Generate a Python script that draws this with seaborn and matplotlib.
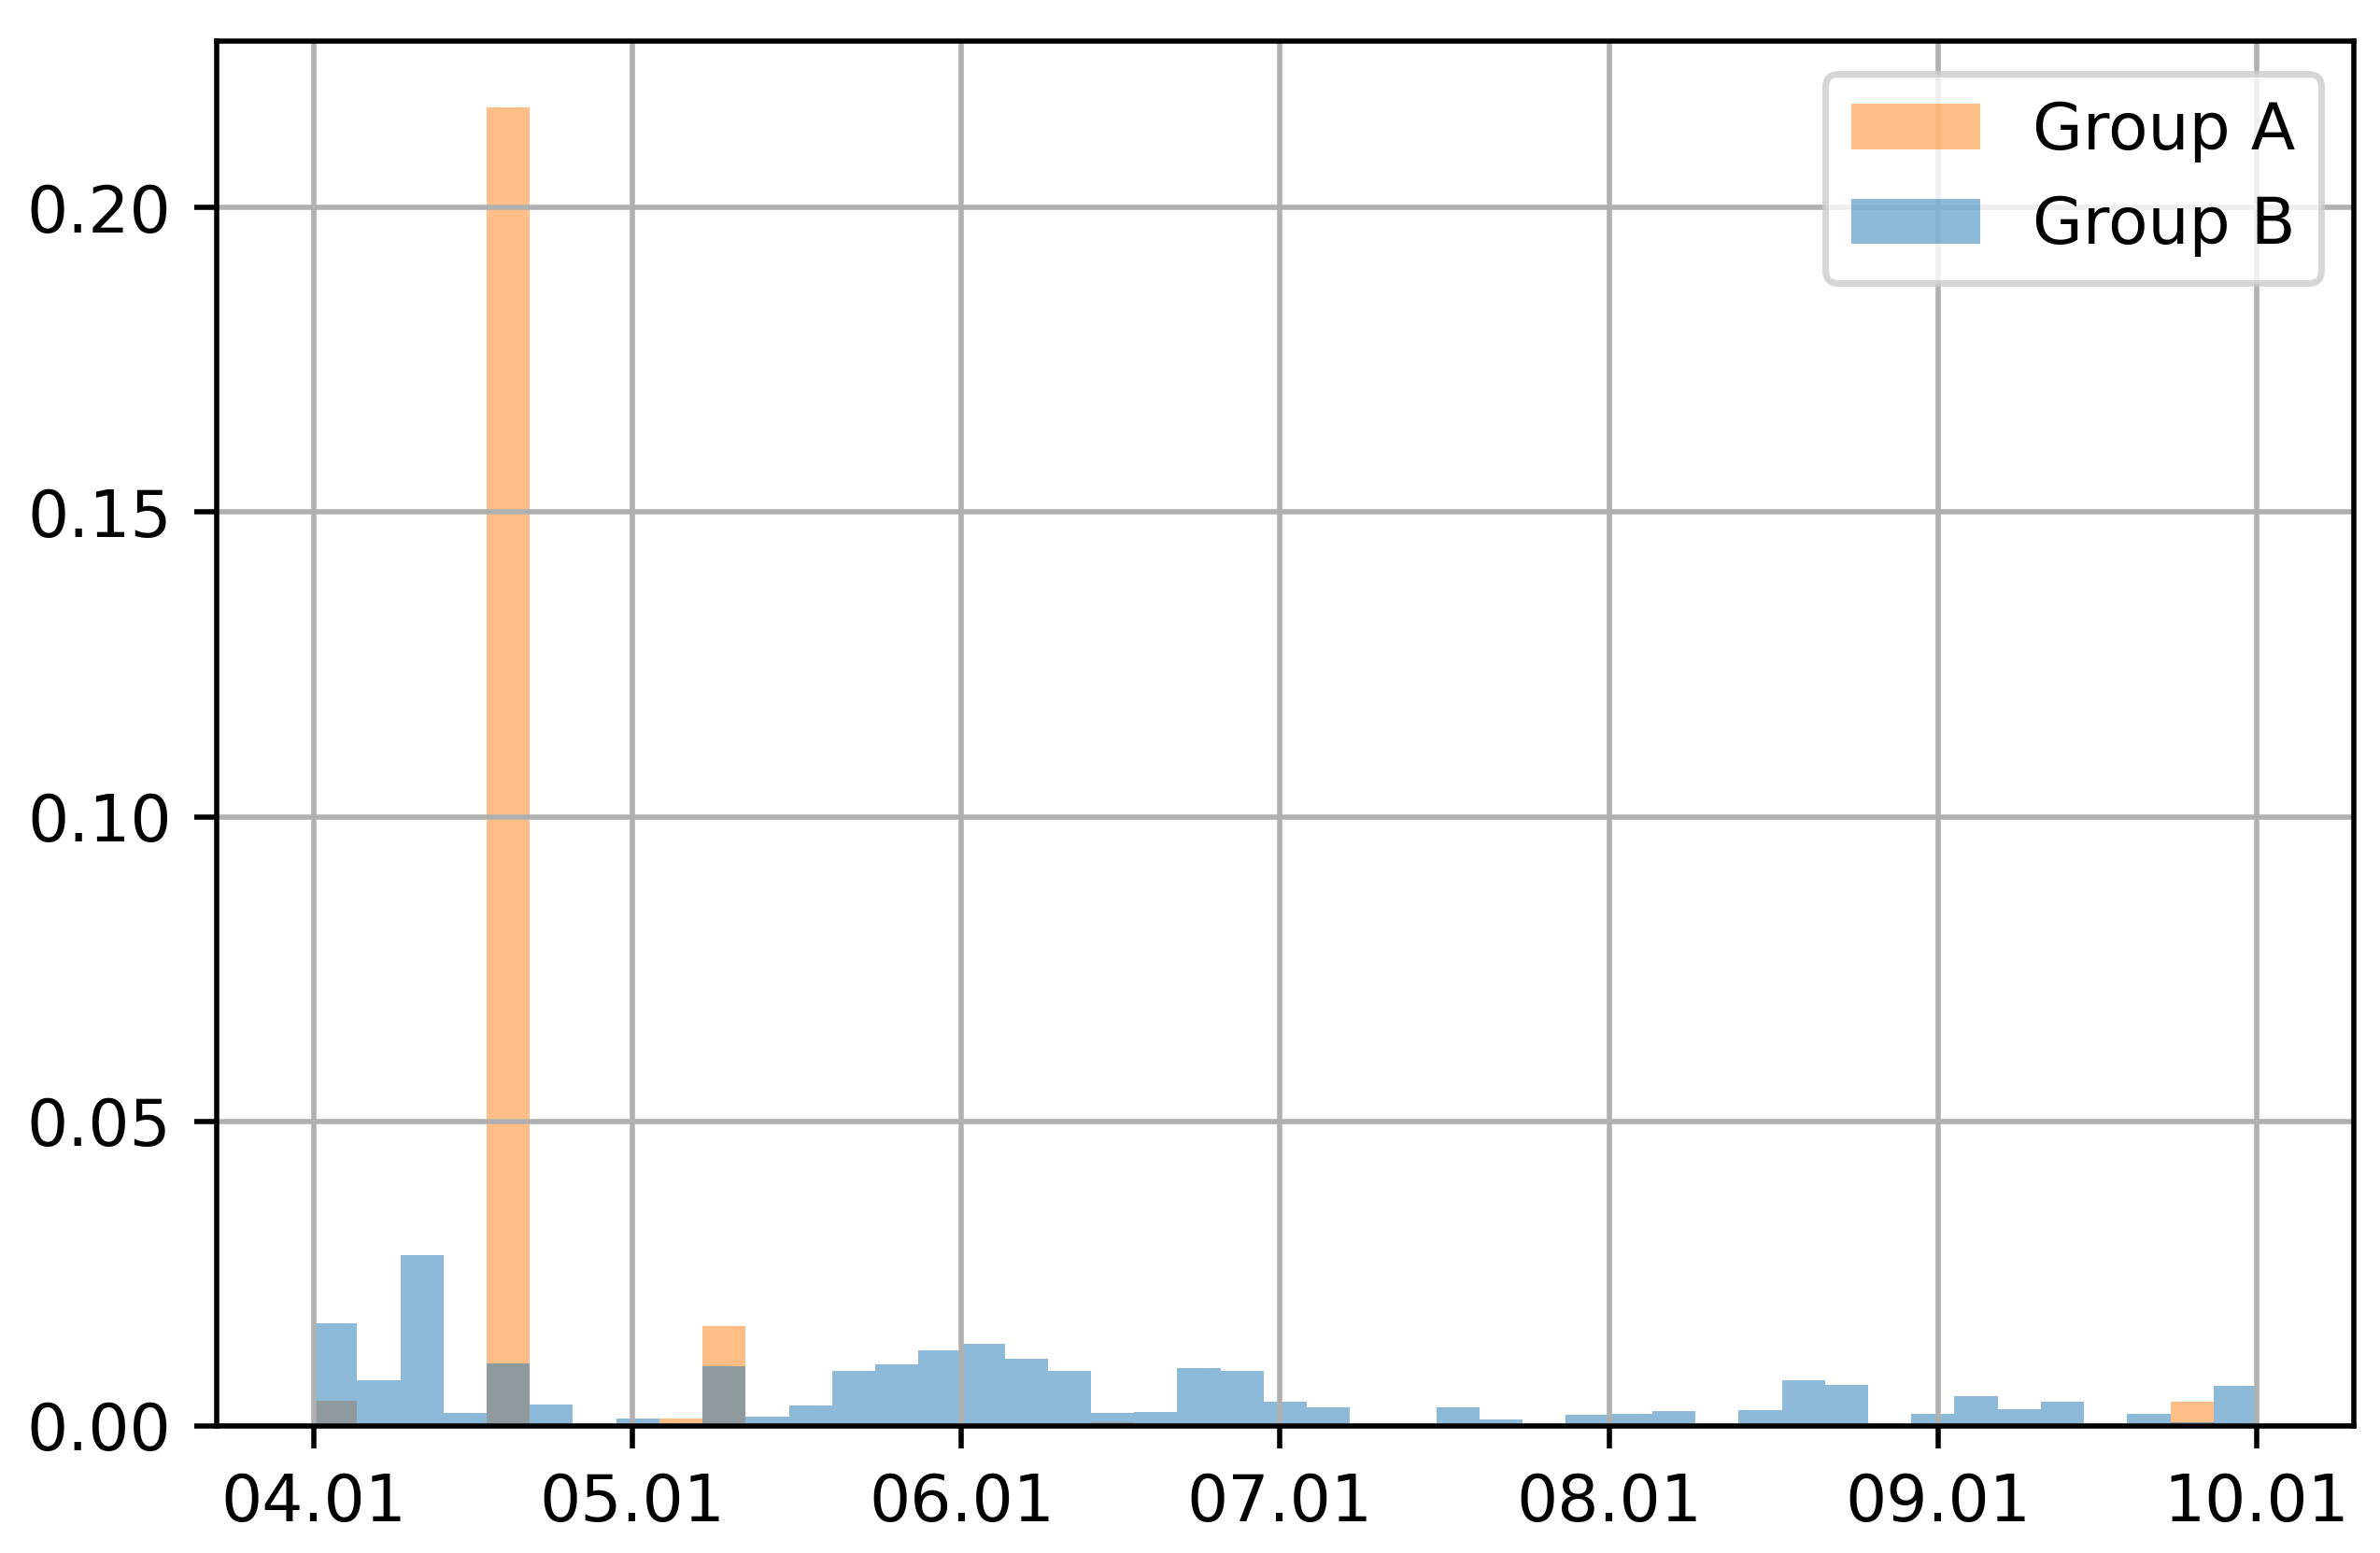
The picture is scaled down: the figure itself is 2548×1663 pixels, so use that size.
import numpy as np
import pandas as pd
import matplotlib
matplotlib.use('Agg')
import matplotlib.pyplot as plt
import matplotlib.dates as mdates
import seaborn as sns
import datetime as dt

# histogram range and bin count (dates, density per day)
start_date = dt.date(2021, 4, 1)
end_date = dt.date(2021, 10, 1)
n_bins = 45

# bin heights
group_a = [0.0041, 0, 0, 0, 0.2165, 0, 0, 0.0005, 0.0012, 0.0164,
           0, 0, 0, 0, 0, 0, 0, 0, 0.0006, 0,
           0, 0, 0, 0, 0, 0, 0, 0, 0, 0,
           0, 0, 0, 0, 0, 0, 0, 0, 0, 0,
           0, 0, 0, 0.0040, 0]
group_b = [0.0169, 0.0075, 0.0281, 0.0022, 0.0103, 0.0035, 0, 0.0012, 0, 0.0098,
           0.0015, 0.0034, 0.0090, 0.0101, 0.0124, 0.0135, 0.0110, 0.0090, 0.0022, 0.0023,
           0.0095, 0.0090, 0.0040, 0.0031, 0, 0.0005, 0.0031, 0.0011, 0.0005, 0.0018,
           0.0020, 0.0025, 0, 0.0026, 0.0075, 0.0067, 0, 0.0020, 0.0049, 0.0028,
           0.0040, 0.0003, 0.0020, 0.0006, 0.0066]
labels = ['Group A', 'Group B']

edges = np.linspace(mdates.date2num(start_date), mdates.date2num(end_date), n_bins + 1)
centers = (edges[:-1] + edges[1:]) / 2
df_a = pd.DataFrame({'day': centers, 'density': group_a})
df_b = pd.DataFrame({'day': centers, 'density': group_b})

fig, ax = plt.subplots(figsize=(2548 / 500, 1663 / 500), dpi=500)
fig.subplots_adjust(left=0.0911, right=0.989, bottom=0.0818, top=0.9735)

# seaborn compares bins with "auto", so hand it a plain list
sns.histplot(data=df_a, x='day', weights='density', bins=edges.tolist(), color='tab:orange',
             alpha=0.5, linewidth=0, label=labels[0], ax=ax)
sns.histplot(data=df_b, x='day', weights='density', bins=edges.tolist(), color='tab:blue',
             alpha=0.5, linewidth=0, label=labels[1], ax=ax)

ax.xaxis.set_major_locator(mdates.MonthLocator())
ax.xaxis.set_major_formatter(mdates.DateFormatter('%m.%d'))
ax.set_xlabel('')
ax.set_ylabel('')
ax.grid(True)
ax.legend(loc='upper right')

fig.savefig('out.png', dpi=500)
